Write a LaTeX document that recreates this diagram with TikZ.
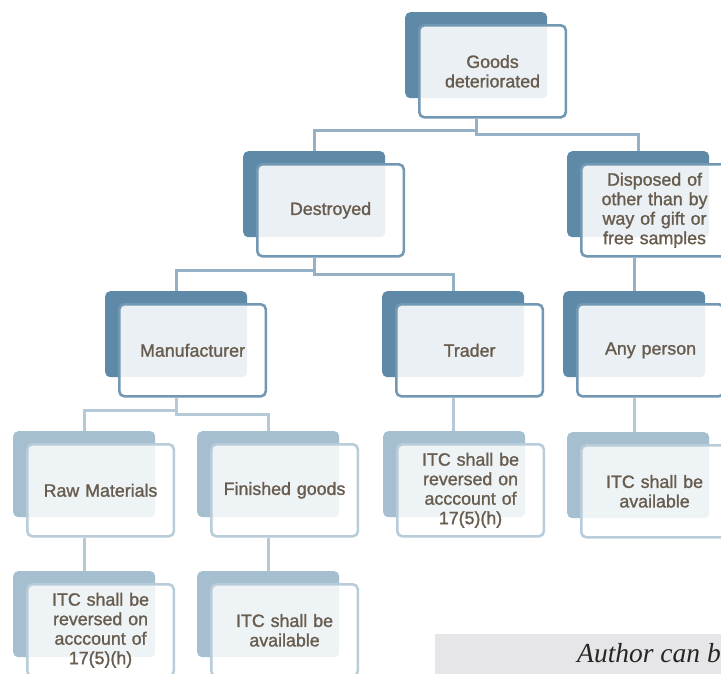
\documentclass[tikz,border=0pt]{standalone}
\usepackage{fontspec}
\setmainfont{Liberation Serif}
\newfontfamily\boxfont{Liberation Sans}[FakeBold=1.3]
\usetikzlibrary{backgrounds}
\definecolor{dk}{RGB}{94,138,168}
\definecolor{dkline}{RGB}{115,152,180}
\definecolor{dkconn}{RGB}{148,177,198}
\definecolor{lt}{RGB}{165,190,208}
\definecolor{ltline}{RGB}{185,204,218}
\definecolor{ltconn}{RGB}{182,201,215}
\definecolor{txt}{RGB}{104,92,78}
\definecolor{graybox}{RGB}{230,230,232}
\newcommand\gbox[5]{%
  \node[back#4, anchor=north west] (#1B) at (#2,#3) {};
  \node[front#4, anchor=north west] (#1) at ({#2+13},{#3+12}) {#5};
}
\begin{document}
\begin{tikzpicture}[x=1pt,y=-1pt,
  backD/.style={rectangle, rounded corners=5pt, fill=dk, minimum width=142pt, minimum height=86pt, inner sep=0pt},
  backL/.style={backD, fill=lt},
  frontD/.style={rectangle, rounded corners=5pt, draw=dkline, line width=2.6pt, fill=white, fill opacity=.88, text opacity=1,
    minimum width=146.5pt, minimum height=92pt, text width=135pt, align=center, inner sep=2pt,
    font=\boxfont\fontsize{17.8}{19.5}\selectfont, text=txt},
  frontL/.style={frontD, draw=ltline, fill opacity=.82},
  connD/.style={draw=dkconn, line width=3pt},
  connL/.style={draw=ltconn, line width=3pt}]
\useasboundingbox (0,0) rectangle (721,673);
\begin{scope}[on background layer]
\fill[white] (0,0) rectangle (721,673);
\end{scope}
% boxes
\gbox{goods}{405}{12}{D}{Goods\\deteriorated}
\gbox{destroyed}{243}{151}{D}{Destroyed}
\gbox{disposed}{567}{151}{D}{Disposed of\\other than by\\way of gift or\\free samples}
\gbox{manuf}{105}{291}{D}{Manufacturer}
\gbox{trader}{382}{291}{D}{Trader}
\gbox{any}{563}{291}{D}{Any person}
\gbox{raw}{13}{431}{L}{Raw Materials}
\gbox{fin}{197}{431}{L}{Finished goods}
\gbox{traderitc}{383}{431}{L}{ITC shall be\\reversed on\\acccount of\\17(5)(h)}
\gbox{anyitc}{567}{432}{L}{ITC shall be\\available}
\gbox{rawitc}{13}{571}{L}{ITC shall be\\reversed on\\acccount of\\17(5)(h)}
\gbox{finitc}{197}{571}{L}{ITC shall be\\available}
% connectors
\begin{scope}[on background layer]
\draw[connD] (goodsB |- goods.south) -- (goodsB |- 0,134) -| (disposedB.north);
\draw[connD] (goodsB |- 0,130) -| (destroyedB.north);
\draw[connD] (destroyedB |- destroyed.south) -- (destroyedB |- 0,274) -| (traderB.north);
\draw[connD] (destroyedB |- 0,270) -| (manufB.north);
\draw[connD] (anyB |- disposed.south) -- (anyB.north);
\draw[connL] (manufB |- manuf.south) -- (manufB |- 0,414) -| (finB.north);
\draw[connL] (manufB |- 0,410) -| (rawB.north);
\draw[connL] (traderB |- trader.south) -- (traderitcB.north -| traderB);
\draw[connL] (anyB |- any.south) -- (anyitcB.north -| anyB);
\draw[connL] (rawB |- raw.south) -- (rawitcB.north);
\draw[connL] (finB |- fin.south) -- (finitcB.north);
\end{scope}
% author box
\fill[graybox] (435,634) rectangle (730,680);
\node[anchor=base west, inner sep=0pt, font=\itshape\fontsize{27.5}{27.5}\selectfont, text=black!85] (author) at (577,662) {Author can b};
\end{tikzpicture}
\end{document}
